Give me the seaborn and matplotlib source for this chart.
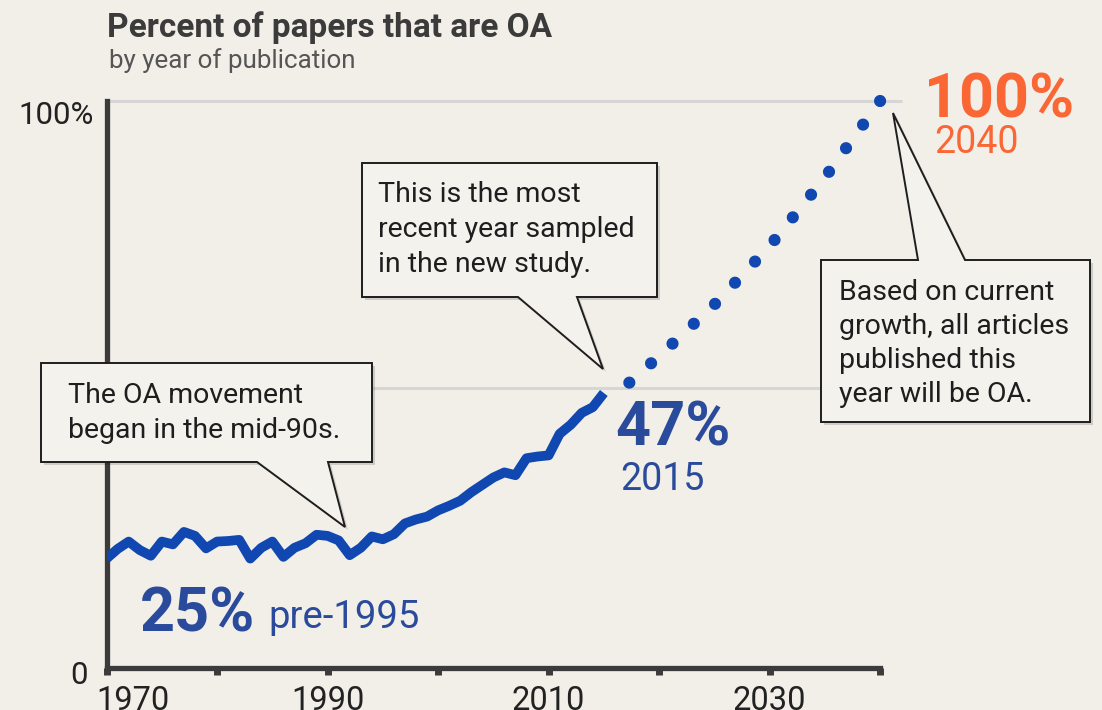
import numpy as np
import pandas as pd
import seaborn as sns
import matplotlib
matplotlib.use("Agg")
import matplotlib.pyplot as plt
from matplotlib.patches import Polygon
from matplotlib import transforms

# ---------------- data ----------------
years_obs = list(range(1970, 2016))
pct_obs = [19.3, 21.0, 22.3, 20.8, 19.8, 22.3, 21.8, 24.0, 23.3, 21.1,
           22.3, 22.4, 22.6, 19.3, 21.2, 22.3, 19.6, 21.2, 22.0, 23.5,
           23.3, 22.5, 19.9, 21.2, 23.2, 22.7, 23.6, 25.5, 26.2, 26.7,
           27.8, 28.6, 29.5, 31.0, 32.3, 33.6, 34.5, 34.0, 37.0, 37.3,
           37.5, 41.3, 42.9, 45.0, 46.0, 48.5]
years_proj = [2015, 2017, 2020, 2025, 2030, 2035, 2040]
pct_proj = [48.5, 49.8, 55.0, 64.1, 74.4, 86.5, 100.0]
ref_levels = [100.0, 49.4]
x_ticks = [1970, 1980, 1990, 2000, 2010, 2020, 2030, 2040]
x_tick_labels = ["1970", "", "1990", "", "2010", "", "2030", ""]
y_ticks = [0, 100]
y_tick_labels = ["0", "100%"]

title = "Percent of papers that are OA"
subtitle = "by year of publication"
box_texts = [
    ["This is the most", "recent year sampled", "in the new study."],
    ["The OA movement", "began in the mid-90s."],
    ["Based on current", "growth, all articles", "published this", "year will be OA."],
]

# ---------------- style ----------------
BG = "#f2efe9"
LINE = "#1047b0"
TXT_BLUE = "#2a4a9c"
ORANGE = "#fa6634"
DARK = "#3b3b3b"

sns.set_theme(style="white")
plt.rcParams["font.family"] = ["Roboto", "DejaVu Sans"]
plt.rcParams["figure.facecolor"] = BG
plt.rcParams["axes.facecolor"] = BG

W, H = 1102, 710
fig = plt.figure(figsize=(W / 100, H / 100), dpi=100)
ax = fig.add_axes([106.6 / W, 1 - 668 / H, (880.1 - 106.6) / W, (668 - 101) / H])
ax.set_facecolor(BG)
T = transforms.Affine2D().scale(1 / W, -1 / H).translate(0, 1) + fig.transFigure

# reference lines
for lv in ref_levels:
    ax.plot([1970, 2042], [lv, lv], color="#d6d6d6", lw=2.2, zorder=1, clip_on=False,
            solid_capstyle="butt")

df_obs = pd.DataFrame({"year": years_obs, "pct": pct_obs})
sns.lineplot(data=df_obs, x="year", y="pct", ax=ax, color=LINE, lw=7,
             solid_joinstyle="round", solid_capstyle="butt", zorder=3)

df_proj = pd.DataFrame({"year": years_proj[::-1], "pct": pct_proj[::-1]})
sns.lineplot(data=df_proj, x="year", y="pct", ax=ax, sort=False, color=LINE, lw=8.8,
             linestyle=(0, (0.001, 2.38)), dash_capstyle="round", zorder=3, clip_on=False)

ax.set_xlim(1970, 2040)
ax.set_ylim(0, 100)
ax.set_xlabel("")
ax.set_ylabel("")

for s in ["top", "right"]:
    ax.spines[s].set_visible(False)
for s in ["left", "bottom"]:
    ax.spines[s].set_color(DARK)
    ax.spines[s].set_linewidth(3.8)
    ax.spines[s].set_zorder(2)

ax.set_xticks(x_ticks, x_tick_labels)
ax.set_yticks(y_ticks, y_tick_labels)
ax.tick_params(axis="x", bottom=True, direction="out", length=5, width=5, color=DARK,
               labelsize=23.5, labelcolor="#222222", pad=7)
ax.tick_params(axis="y", left=False, length=0, labelsize=22.5, labelcolor="#222222", pad=9)

for lbl in ax.get_xticklabels():
    if lbl.get_text() == "1970":
        lbl.set_transform(lbl.get_transform() + transforms.ScaledTranslation(0.26, 0, fig.dpi_scale_trans))
for lbl in ax.get_yticklabels():
    if lbl.get_text() == "100%":
        dx, dy = 0.0, -0.11
    else:
        dx, dy = -0.06, -0.04
    lbl.set_transform(lbl.get_transform() + transforms.ScaledTranslation(dx, dy, fig.dpi_scale_trans))

# ---------------- titles ----------------
fig.text(107, 37, title, transform=T, fontsize=24, weight="bold", color=DARK, va="baseline")
fig.text(109, 68, subtitle, transform=T, fontsize=18.7, color="#555555", va="baseline")

# ---------------- big labels ----------------
fig.text(140, 632, "25%", transform=T, fontsize=44, weight="bold", color=TXT_BLUE, va="baseline")
fig.text(268, 628, "pre-1995", transform=T, fontsize=27.5, color=TXT_BLUE, va="baseline")
fig.text(615, 446, "47%", transform=T, fontsize=44, weight="bold", color=TXT_BLUE, va="baseline")
fig.text(620, 490, "2015", transform=T, fontsize=27, color=TXT_BLUE, va="baseline")
fig.text(924, 117, "100%", transform=T, fontsize=44, weight="bold", color=ORANGE, va="baseline")
fig.text(934, 153, "2040", transform=T, fontsize=27, color=ORANGE, va="baseline")

# ---------------- callout boxes ----------------
def callout(verts):
    sh = [(x + 3, y + 3) for x, y in verts]
    fig.add_artist(Polygon(sh, closed=True, transform=T, facecolor="#000000", alpha=0.15,
                           edgecolor="none", zorder=8))
    fig.add_artist(Polygon(verts, closed=True, transform=T, facecolor="#f4f2ed",
                           edgecolor="#1e1e1e", lw=1.4, zorder=9, joinstyle="miter"))

callout([(362, 163), (657, 163), (657, 297), (577, 297), (603, 369), (518, 297), (362, 297)])
callout([(41, 363), (372, 363), (372, 462), (328, 462), (345, 527), (257, 462), (41, 462)])
callout([(821, 260), (918, 260), (893, 113), (965, 260), (1090, 260), (1090, 422), (821, 422)])

box_pos = [(378, 201.7, 35), (68, 403, 35), (839, 300, 34)]
for lines, (x0, y0, dy) in zip(box_texts, box_pos):
    for i, ln in enumerate(lines):
        fig.text(x0, y0 + i * dy, ln, transform=T, fontsize=20.5, color="#1e1e1e",
                 va="baseline", zorder=10)

fig.savefig("out.png", dpi=100, facecolor=BG)
